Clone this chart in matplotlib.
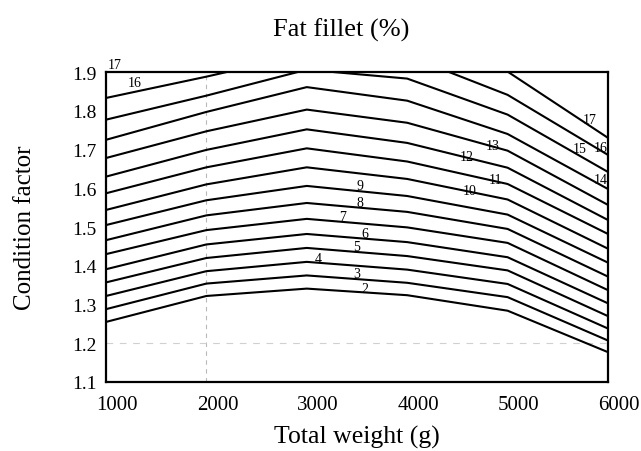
import numpy as np
import matplotlib.pyplot as plt
from matplotlib.transforms import ScaledTranslation

plt.rcParams['font.family'] = ['Liberation Serif', 'DejaVu Serif']

# total weight nodes (g)
weights = [1000, 2000, 3000, 4000, 5000, 6000]

# condition factor where each fat-fillet (%) iso-line passes at each weight
levels = [2, 3, 4, 5, 6, 7, 8, 9, 10, 11, 12, 13, 14, 15, 16, 17]
k_lines = [
    [1.255, 1.322, 1.341, 1.324, 1.284, 1.177],  # 2
    [1.288, 1.354, 1.375, 1.356, 1.319, 1.207],  # 3
    [1.322, 1.386, 1.410, 1.390, 1.353, 1.238],  # 4
    [1.357, 1.420, 1.446, 1.425, 1.388, 1.270],  # 5
    [1.391, 1.455, 1.482, 1.461, 1.422, 1.303],  # 6
    [1.430, 1.492, 1.521, 1.499, 1.459, 1.337],  # 7
    [1.466, 1.530, 1.562, 1.539, 1.495, 1.372],  # 8
    [1.505, 1.569, 1.606, 1.580, 1.532, 1.408],  # 9
    [1.544, 1.610, 1.654, 1.624, 1.571, 1.444],  # 10
    [1.587, 1.654, 1.703, 1.669, 1.611, 1.482],  # 11
    [1.630, 1.699, 1.752, 1.717, 1.653, 1.518],  # 12
    [1.678, 1.747, 1.803, 1.769, 1.697, 1.557],  # 13
    [1.725, 1.797, 1.861, 1.826, 1.740, 1.598],  # 14
    [1.777, 1.839, 1.906, 1.883, 1.790, 1.642],  # 15
    [1.833, 1.888, 1.947, 1.942, 1.841, 1.686],  # 16
    [1.900, 1.947, 2.012, 2.004, 1.901, 1.730],  # 17
]

# where the numbers are written: (level, weight, points above the line)
label_spots = [(2, 3580, 3), (3, 3500, 4), (4, 3110, 3), (5, 3500, 4), (6, 3580, 4),
               (7, 3360, 4), (8, 3530, 4), (9, 3530, 4), (10, 4625, 1), (11, 4875, 1),
               (12, 4595, 1), (13, 4855, 1), (14, 5930, 4), (15, 5720, 5), (16, 5930, 2),
               (17, 5820, 5), (16, 1290, 7), (17, 1090, 4)]

x_ticks = [1000, 2000, 3000, 4000, 5000, 6000]
y_ticks = [1.1, 1.2, 1.3, 1.4, 1.5, 1.6, 1.7, 1.8, 1.9]

fig = plt.figure(figsize=(6.41, 4.52), dpi=100)
ax = fig.add_axes([106 / 641, 1 - 383 / 452, 502 / 641, 310 / 452])

# faint scan grid
ax.axvline(2000, color='#b8b8b8', lw=0.8, ls=(0, (4, 4)), zorder=1)
ax.axhline(1.2, color='#d0d0d0', lw=0.8, ls=(0, (6, 6)), zorder=1)

for lev, ks in zip(levels, k_lines):
    ax.plot(weights, ks, color='black', lw=1.5, zorder=2)

for lev, w, dy in label_spots:
    k = np.interp(w, weights, k_lines[levels.index(lev)])
    ax.annotate(str(lev), (w, k), xytext=(0, dy), textcoords='offset points',
                ha='center', va='center', fontsize=10, zorder=3,
                annotation_clip=False)

ax.set_xlim(1000, 6000)
ax.set_ylim(1.1, 1.9)
ax.set_xticks(x_ticks)
ax.set_yticks(y_ticks)
ax.set_yticklabels([f'{v:.1f}' for v in y_ticks])
ax.tick_params(length=0)
ax.tick_params(axis='x', pad=9, labelsize=15)
ax.tick_params(axis='y', pad=7, labelsize=14)
shift = ScaledTranslation(11 / 100, 0, fig.dpi_scale_trans)
for lab in ax.get_xticklabels():
    lab.set_transform(lab.get_transform() + shift)
for s in ax.spines.values():
    s.set_linewidth(1.6)

fig.text(341 / 641, 1 - 30 / 452, 'Fat fillet (%)', ha='center', va='center', fontsize=19)
fig.text(357 / 641, 1 - 437 / 452, 'Total weight (g)', ha='center', va='center', fontsize=18.5)
fig.text(25 / 641, 1 - 228 / 452, 'Condition factor', ha='center', va='center',
         rotation=90, fontsize=18)

fig.savefig('out.png', dpi=100)
